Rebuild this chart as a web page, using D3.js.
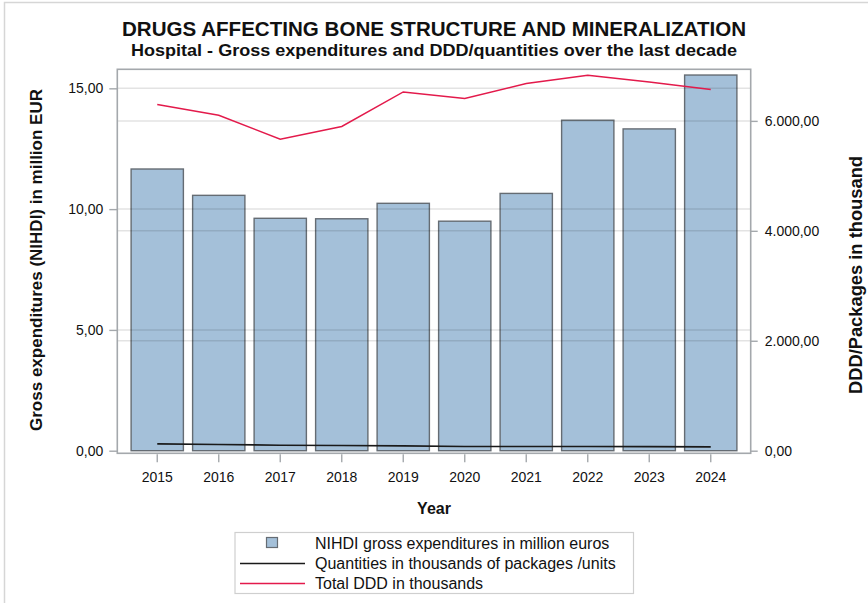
<!DOCTYPE html>
<html>
<head>
<meta charset="utf-8">
<script src="https://cdn.jsdelivr.net/npm/d3@7"></script>
<style>
  html, body { margin: 0; padding: 0; background: #fff; }
  svg { display: block; font-family: "Liberation Sans", Arial, sans-serif; }
</style>
</head>
<body>
<svg id="chart" width="868" height="603"></svg>
<script>
const years = ["2015", "2016", "2017", "2018", "2019", "2020", "2021", "2022", "2023", "2024"];
const expenditures = [11.66, 10.57, 9.62, 9.60, 10.24, 9.50, 10.65, 13.68, 13.32, 15.55];
const quantities = [124, 113, 100, 95, 87, 76, 76, 76, 75, 69];
const totalDDD = [6298, 6103, 5667, 5898, 6527, 6407, 6680, 6831, 6709, 6571];
const leftTicks = [0, 5, 10, 15];
const rightTicks = [0, 2000, 4000, 6000];
const titleText = "DRUGS AFFECTING BONE STRUCTURE AND MINERALIZATION";
const subtitleText = "Hospital - Gross expenditures and DDD/quantities over the last decade";
const leftAxisTitle = "Gross expenditures (NIHDI) in million EUR";
const rightAxisTitle = "DDD/Packages in thousand";
const xAxisTitle = "Year";
const legendLabels = ["NIHDI gross expenditures in million euros", "Quantities in thousands of packages /units", "Total DDD in thousands"];

const svg = d3.select("#chart");
const frame = { left: 117.3, top: 69.3, right: 750.7, bottom: 453.3 };
const zeroY = 450.7;

const loc = d3.formatLocale({ decimal: ",", thousands: ".", grouping: [3], currency: ["", "€"] });
const fmt = loc.format(",.2f");

const x = d3.scaleBand().domain(years).range([126.5, 741.5]).paddingInner(0.15).paddingOuter(0.075);
const yL = d3.scaleLinear().domain([0, 15.8]).range([zeroY, 69]);
const yR = d3.scaleLinear().domain([0, 6944]).range([zeroY, 69]);

// outer border
svg.append("rect").attr("x", 4.5).attr("y", 2.5).attr("width", 900).attr("height", 700)
  .attr("fill", "none").attr("stroke", "#d6d6d6").attr("stroke-width", 1.5);

// bars
svg.append("g").selectAll("rect").data(years).join("rect")
  .attr("x", d => x(d))
  .attr("y", (d, i) => yL(expenditures[i]))
  .attr("width", x.bandwidth())
  .attr("height", (d, i) => zeroY - yL(expenditures[i]))
  .attr("fill", "#a4c0d9")
  .attr("stroke", "#656c73")
  .attr("stroke-width", 1.4);

// gridlines (drawn faintly over bars)
const grid = svg.append("g").attr("stroke", "rgba(0,0,0,0.11)").attr("stroke-width", 1.5);
leftTicks.filter(t => t > 0).forEach(t => {
  grid.append("line").attr("x1", frame.left).attr("x2", frame.right).attr("y1", yL(t)).attr("y2", yL(t));
});
rightTicks.filter(t => t > 0).forEach(t => {
  grid.append("line").attr("x1", frame.left).attr("x2", frame.right).attr("y1", yR(t)).attr("y2", yR(t));
});

// lines
const cx = d => x(d) + x.bandwidth() / 2;
svg.append("path").datum(years)
  .attr("fill", "none").attr("stroke", "#1a1a1a").attr("stroke-width", 1.6)
  .attr("d", d3.line().x(d => cx(d)).y((d, i) => yR(quantities[i])));
svg.append("path").datum(years)
  .attr("fill", "none").attr("stroke", "#e31a4b").attr("stroke-width", 1.5)
  .attr("d", d3.line().x(d => cx(d)).y((d, i) => yR(totalDDD[i])));

// frame
svg.append("rect").attr("x", frame.left).attr("y", frame.top)
  .attr("width", frame.right - frame.left).attr("height", frame.bottom - frame.top)
  .attr("fill", "none").attr("stroke", "#a4a8ac").attr("stroke-width", 1.6);

// axes
function styleAxis(g) {
  g.select(".domain").remove();
  g.selectAll(".tick line").attr("stroke", "#a4a8ac").attr("stroke-width", 1.4);
  g.selectAll(".tick text").attr("fill", "#111").style("font-size", "14px")
    .style("font-family", "\"Liberation Sans\", Arial, sans-serif");
}
const gL = svg.append("g").attr("transform", `translate(${frame.left},0)`)
  .call(d3.axisLeft(yL).tickValues(leftTicks).tickFormat(fmt).tickSize(8).tickPadding(6));
styleAxis(gL);
const gR = svg.append("g").attr("transform", `translate(${frame.right},0)`)
  .call(d3.axisRight(yR).tickValues(rightTicks).tickFormat(fmt).tickSize(7).tickPadding(7));
styleAxis(gR);
const gX = svg.append("g").attr("transform", `translate(0,${frame.bottom + 1})`)
  .call(d3.axisBottom(x).tickSize(8).tickPadding(10));
styleAxis(gX);

// titles
svg.append("text").attr("x", 434).attr("y", 36).attr("text-anchor", "middle")
  .attr("textLength", 624).attr("lengthAdjust", "spacingAndGlyphs")
  .style("font-size", "20px").style("font-weight", "bold").attr("fill", "#111").text(titleText);
svg.append("text").attr("x", 434).attr("y", 56).attr("text-anchor", "middle")
  .attr("textLength", 606).attr("lengthAdjust", "spacingAndGlyphs")
  .style("font-size", "16.5px").style("font-weight", "bold").attr("fill", "#111").text(subtitleText);
svg.append("text").attr("transform", "translate(42,260) rotate(-90)").attr("text-anchor", "middle")
  .style("font-size", "17px").style("font-weight", "bold").attr("fill", "#111").text(leftAxisTitle);
svg.append("text").attr("transform", "translate(862,275) rotate(-90)").attr("text-anchor", "middle")
  .attr("textLength", 238).attr("lengthAdjust", "spacingAndGlyphs")
  .style("font-size", "17.5px").style("font-weight", "bold").attr("fill", "#111").text(rightAxisTitle);
svg.append("text").attr("x", 434).attr("y", 514).attr("text-anchor", "middle")
  .style("font-size", "16px").style("font-weight", "bold").attr("fill", "#111").text(xAxisTitle);

// legend
const lg = svg.append("g");
lg.append("rect").attr("x", 235).attr("y", 532.5).attr("width", 398.5).attr("height", 61)
  .attr("fill", "#fff").attr("stroke", "#cfcfcf").attr("stroke-width", 1.2);
lg.append("rect").attr("x", 266.5).attr("y", 537.5).attr("width", 11).attr("height", 10)
  .attr("fill", "#a4c0d9").attr("stroke", "#656c73").attr("stroke-width", 1.2);
lg.append("line").attr("x1", 240).attr("x2", 305).attr("y1", 563.5).attr("y2", 563.5)
  .attr("stroke", "#1a1a1a").attr("stroke-width", 1.6);
lg.append("line").attr("x1", 240).attr("x2", 305).attr("y1", 583.5).attr("y2", 583.5)
  .attr("stroke", "#e31a4b").attr("stroke-width", 1.5);
legendLabels.forEach((t, i) => {
  lg.append("text").attr("x", 315).attr("y", 549 + i * 20)
    .style("font-size", "16px").attr("fill", "#111").text(t);
});
</script>
</body>
</html>
